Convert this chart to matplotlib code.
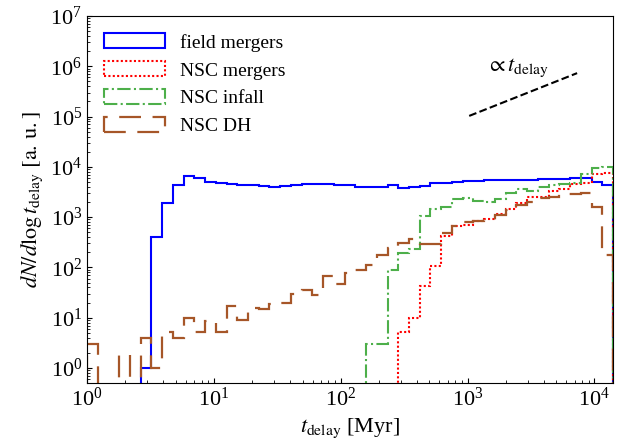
import numpy as np
import matplotlib
matplotlib.use("Agg")
import matplotlib.pyplot as plt

plt.rcParams['font.family'] = 'serif'
plt.rcParams['font.serif'] = ['Liberation Serif', 'DejaVu Serif']
plt.rcParams['mathtext.fontset'] = 'stix'
plt.rcParams['font.size'] = 16

# log-spaced delay-time bins, 1 Myr .. 14 Gyr
t_min, t_max, n_bins = 1.0, 1.4e4, 49
edges = np.logspace(np.log10(t_min), np.log10(t_max), n_bins + 1)
centers = np.sqrt(edges[:-1] * edges[1:])

# dN/dlog t_delay per bin
field_mergers = [0, 0, 0, 0, 0, 1.0, 400, 1950, 4400, 6700,
                 6100, 5000, 4700, 4500, 4370, 4300, 4170, 3930, 4170, 4370,
                 4570, 4570, 4570, 4450, 4300, 4040, 3980, 3980, 4370, 3800,
                 4040, 4170, 4720, 4850, 4900, 5250, 5130, 5370, 5500, 5500,
                 5570, 5570, 5660, 5750, 5840, 6030, 6030, 5080, 4370]
nsc_mergers = [0] * 29 + [5.1, 9.8, 43, 107, 430, 668, 700, 850, 930, 1160,
                          1435, 1950, 2480, 2570, 3300, 3700, 4570, 4860, 7100, 7680]
nsc_infall = [0] * 26 + [3.0, 3.0, 89, 197, 235, 1070, 1420, 1620, 2270, 2370,
                         2130, 1980, 2340, 3050, 3590, 3270, 3930, 4430, 4570, 4860,
                         7240, 9380, 9800]
nsc_dh = [3.0, 0, 0, 1.8, 0, 4.0, 1.0, 5.1, 4.0, 9.8,
          5.3, 8.8, 5.3, 17, 9.0, 15.5, 14.8, 18.8, 20, 29.7,
          35, 28, 68, 47, 77, 87, 112, 180, 240, 305,
          375, 290, 290, 480, 670, 815, 850, 880, 1100, 1390,
          1740, 2040, 2370, 2570, 2850, 2850, 2990, 1600, 178]

# reference slope  ∝ t_delay
slope_t = [1.03e3, 7.3e3]
slope_y = [1.03e5, 7.3e5]

fig, ax = plt.subplots(figsize=(6.3, 4.43), dpi=100)
fig.subplots_adjust(left=0.138, right=0.973, bottom=0.135, top=0.964)

ax.hist(centers, bins=edges, weights=field_mergers, histtype='step',
        color='blue', lw=1.5, label='field mergers')
ax.hist(centers, bins=edges, weights=nsc_mergers, histtype='step',
        color='red', lw=1.5, ls=(0, (1, 1.1)), label='NSC mergers')
ax.hist(centers, bins=edges, weights=nsc_infall, histtype='step',
        color='#4daf4a', lw=1.5, ls='-.', label='NSC infall')
ax.hist(centers, bins=edges, weights=nsc_dh, histtype='step',
        color='#a65628', lw=1.6, ls=(0, (9.8, 5.2)), label='NSC DH')

ax.plot(slope_t, slope_y, 'k--', lw=1.5)
ax.text(2.5e3, 9.2e5, r'$\propto t_{\rm delay}$', ha='center', va='center')

ax.set_xscale('log')
ax.set_yscale('log')
ax.set_xlim(t_min, t_max)
ax.set_ylim(0.5, 1e7)
ax.tick_params(which='both', direction='in')

ax.set_xlabel(r'$t_{\rm delay}$ [Myr]')
ax.set_ylabel(r'$dN/d\log t_{\rm delay}\ [{\rm a.\,u.}]$')

ax.legend(loc='upper left', frameon=False, fontsize=14,
          handlelength=3.1, handleheight=0.8)

fig.savefig('out.png', dpi=100)
